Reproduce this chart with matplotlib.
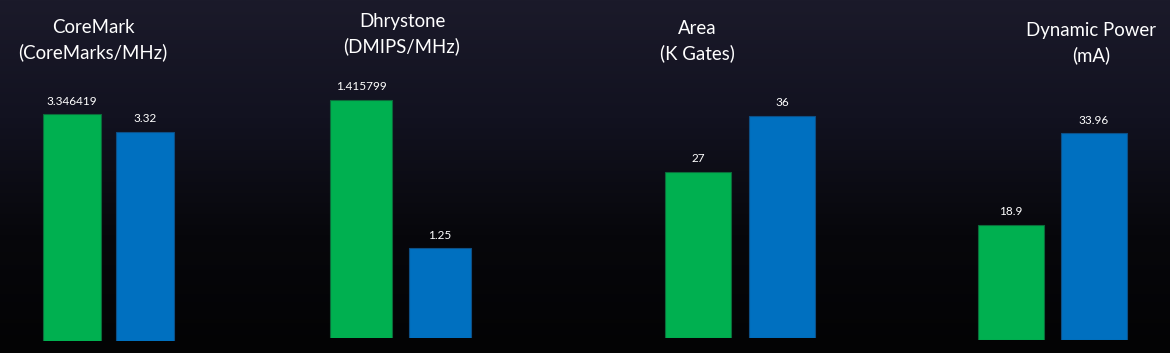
import numpy as np
import matplotlib
matplotlib.use("Agg")
import matplotlib.pyplot as plt
from matplotlib.colors import LinearSegmentedColormap

plt.rcParams['font.family'] = ['Lato', 'DejaVu Sans']

# data
titles = ['CoreMark\n(CoreMarks/MHz)', 'Dhrystone\n(DMIPS/MHz)', 'Area\n(K Gates)', 'Dynamic Power\n(mA)']
green_vals = [3.346419, 1.415799, 27, 18.9]
blue_vals = [3.32, 1.25, 36, 33.96]
green_lbl = ['3.346419', '1.415799', '27', '18.9']
blue_lbl = ['3.32', '1.25', '36', '33.96']

# layout (pixels, from top-left) and y ranges
W, H = 1170, 353
panel_left = [35.5, 321.5, 656, 969.5]
panel_width = [146, 158, 168, 166]
panel_bottom = [341, 338, 338, 340]
ylims = [(3.0, 3.506), (1.15, 1.516), (0, 53.2), (0, 54.2)]
title_pos = [(93, 40), (402, 34), (697, 41), (1091, 43)]

green = '#00B050'
blue = '#0070C0'

fig = plt.figure(figsize=(W / 100, H / 100), dpi=100)

# dark background gradient
bg = fig.add_axes([0, 0, 1, 1])
cmap = LinearSegmentedColormap.from_list('bg', ['#1b1a2a', '#121220', '#07070b', '#030304'])
grad = np.linspace(0, 1, 256).reshape(-1, 1)
bg.imshow(grad, aspect='auto', cmap=cmap, extent=[0, 1, 0, 1], origin='upper')
bg.axis('off')

for i in range(4):
    top = 10
    ax = fig.add_axes([panel_left[i] / W, (H - panel_bottom[i]) / H,
                       panel_width[i] / W, (panel_bottom[i] - top) / H])
    ax.patch.set_alpha(0)
    bars = ax.bar([0, 1], [green_vals[i], blue_vals[i]], width=0.79,
                  color=[green, blue], edgecolor=['#0b6b3a', '#0d4f86'], linewidth=0.8)
    ax.set_xlim(-0.5, 1.5)
    ax.set_ylim(*ylims[i])
    for b, t in zip(bars, [green_lbl[i], blue_lbl[i]]):
        ax.annotate(t, (b.get_x() + b.get_width() / 2, b.get_height()),
                    xytext=(0, 5.5), textcoords='offset points',
                    ha='center', va='bottom', color='white', fontsize=8.5)
    ax.axis('off')

    x, y = title_pos[i]
    fig.text(x / W, 1 - y / H, titles[i], ha='center', va='center',
             color='white', fontsize=13.4, linespacing=1.45)

fig.savefig('out.png', dpi=100, facecolor='#0a0a10')
